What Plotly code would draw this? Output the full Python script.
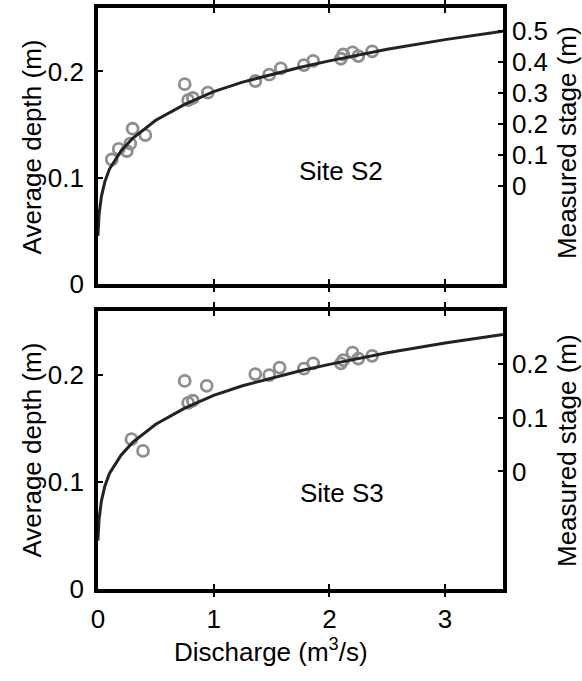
import plotly.graph_objects as go

# ---- data ----
curve_q = [0.0, 0.003, 0.01, 0.03, 0.06, 0.1, 0.2, 0.3, 0.5, 0.75, 1.0,
           1.25, 1.5, 1.75, 2.0, 2.5, 3.0, 3.5]
curve_d = [0.045, 0.052, 0.065, 0.082, 0.096, 0.108, 0.125, 0.137, 0.154,
           0.169, 0.181, 0.190, 0.197, 0.204, 0.210, 0.221, 0.230, 0.238]

s2_q = [0.12, 0.18, 0.25, 0.28, 0.30, 0.41, 0.75, 0.78, 0.82, 0.95,
        1.36, 1.48, 1.58, 1.78, 1.86, 2.10, 2.12, 2.20, 2.25, 2.37]
s2_d = [0.117, 0.127, 0.125, 0.132, 0.146, 0.140, 0.188, 0.173, 0.175, 0.180,
        0.191, 0.197, 0.203, 0.206, 0.210, 0.212, 0.216, 0.218, 0.2145, 0.219]

s3_q = [0.29, 0.39, 0.75, 0.78, 0.82, 0.94, 1.36, 1.48, 1.57, 1.78, 1.86,
        2.10, 2.12, 2.20, 2.25, 2.37]
s3_d = [0.140, 0.129, 0.1945, 0.174, 0.176, 0.190, 0.201, 0.200, 0.207, 0.206,
        0.211, 0.211, 0.214, 0.221, 0.2155, 0.218]

x_ticks = [0, 1, 2, 3]
depth_ticks = [0, 0.1, 0.2]
stage_ticks_s2 = [0, 0.1, 0.2, 0.3, 0.4, 0.5]
stage_ticks_s3 = [0, 0.1, 0.2]

W, H = 582, 681
FONT = "Liberation Sans, Arial, sans-serif"
FS = 26
LW = 3.5
MARK_COLOR = "#8e8e8e"

xdom = [92 / W, 502 / W]
top_dom = [1 - 290 / H, 1 - 8 / H]
bot_dom = [1 - 602 / H, 1 - 318 / H]

fig = go.Figure()

marker = dict(symbol="circle-open", size=11, color=MARK_COLOR, line=dict(width=2.8, color=MARK_COLOR))

fig.add_trace(go.Scatter(x=s2_q, y=s2_d, mode="markers", marker=marker, xaxis="x", yaxis="y", showlegend=False))
fig.add_trace(go.Scatter(x=curve_q, y=curve_d, mode="lines", line=dict(color="#222222", width=3),
                         xaxis="x", yaxis="y", showlegend=False))
fig.add_trace(go.Scatter(x=[], y=[], xaxis="x", yaxis="y2", showlegend=False))

fig.add_trace(go.Scatter(x=s3_q, y=s3_d, mode="markers", marker=marker, xaxis="x2", yaxis="y3", showlegend=False))
fig.add_trace(go.Scatter(x=curve_q, y=curve_d, mode="lines", line=dict(color="#222222", width=3),
                         xaxis="x2", yaxis="y3", showlegend=False))
fig.add_trace(go.Scatter(x=[], y=[], xaxis="x2", yaxis="y4", showlegend=False))

tickfont = dict(family=FONT, size=FS, color="black")

common_x = dict(range=[0, 3.5], tickvals=x_ticks, ticks="inside", ticklen=5, tickwidth=2,
                tickcolor="black", showline=True, linecolor="black", linewidth=LW,
                mirror="allticks", showgrid=False, zeroline=False, domain=xdom, tickfont=tickfont,
                ticklabelstandoff=4)
common_y = dict(range=[0, 0.26], tickvals=depth_ticks, ticktext=["0", "0.1", "0.2"],
                ticks="inside", ticklen=5, tickwidth=2, tickcolor="black",
                showline=True, linecolor="black", linewidth=LW, mirror=False,
                showgrid=False, zeroline=False, tickfont=tickfont, ticklabelstandoff=5)
common_y2 = dict(side="right", showline=True, linecolor="black", linewidth=LW,
                 ticks="inside", ticklen=5, tickwidth=2, tickcolor="black",
                 showgrid=False, zeroline=False, tickfont=tickfont, ticklabelstandoff=0)

fig.update_layout(
    width=W, height=H,
    margin=dict(l=0, r=0, t=0, b=0),
    paper_bgcolor="white", plot_bgcolor="white",
    font=dict(family=FONT, size=FS, color="black"),
    xaxis=dict(common_x, anchor="y", showticklabels=False),
    yaxis=dict(common_y, domain=top_dom, anchor="x"),
    yaxis2=dict(common_y2, overlaying="y", anchor="x", range=[-0.317, 0.576],
                tickvals=stage_ticks_s2, ticktext=["0", "0.1", "0.2", "0.3", "0.4", "0.5"]),
    xaxis2=dict(common_x, anchor="y3"),
    yaxis3=dict(common_y, domain=bot_dom, anchor="x2"),
    yaxis4=dict(common_y2, overlaying="y3", anchor="x2", range=[-0.218, 0.298],
                tickvals=stage_ticks_s3, ticktext=["0", "0.1", "0.2"]),
)

ann = [
    dict(text="Average depth (m)", x=25 / W, y=1 - 150 / H, textangle=-90),
    dict(text="Average depth (m)", x=25 / W, y=1 - 460 / H, textangle=-90),
    dict(text="Measured stage (m)", x=567 / W, y=1 - 146 / H, textangle=-90),
    dict(text="Measured stage (m)", x=567 / W, y=1 - 461 / H, textangle=-90),
    dict(text="Discharge (m<sup>3</sup>/s)", x=267 / W, y=1 - 665 / H),
]
for a in ann:
    fig.add_annotation(xref="paper", yref="paper", showarrow=False, xanchor="center", yanchor="middle",
                       font=dict(family=FONT, size=FS, color="black"), **a)

fig.add_annotation(text="Site S2", x=2.10, y=0.106, xref="x", yref="y", showarrow=False,
                   font=dict(family=FONT, size=FS, color="black"))
fig.add_annotation(text="Site S3", x=2.11, y=0.090, xref="x2", yref="y3", showarrow=False,
                   font=dict(family=FONT, size=FS, color="black"))

fig.write_html("out.html")
